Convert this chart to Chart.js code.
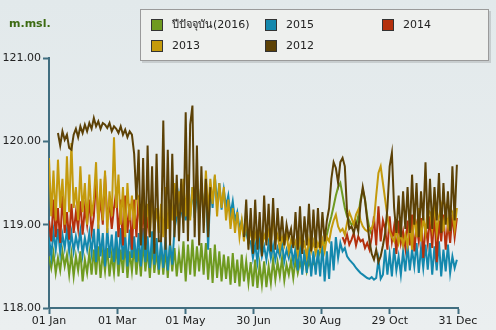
<!DOCTYPE html>
<html>
<head>
<meta charset="utf-8">
<script src="https://cdn.jsdelivr.net/npm/chart.js@4.4.0/dist/chart.umd.min.js"></script>
<style>
  html, body { margin: 0; padding: 0; }
  body {
    width: 496px; height: 330px; position: relative; overflow: hidden;
    background: linear-gradient(#e2e9eb, #ebeff0);
    font-family: "DejaVu Sans", "Noto Sans", sans-serif;
  }
  #chart { position: absolute; left: 0; top: 0; }
  #unit { position: absolute; left: 9px; top: 17px; font-size: 11px; font-weight: bold; color: #3d6b12; }
  #legend {
    position: absolute; left: 140px; top: 9px; width: 347px; height: 50px;
    background: #eef0ee; border: 1px solid #9a9a9a; box-shadow: 2px 2px 0 rgba(0,0,0,0.12);
  }
  .sw { position: absolute; width: 10px; height: 10px; border: 1px solid #333; }
  .lb { position: absolute; font-size: 11px; line-height: 13px; color: #222; white-space: nowrap; }
</style>
</head>
<body>
<canvas id="chart" width="496" height="330"></canvas>
<div id="unit">m.msl.</div>
<div id="legend"></div>
<script>
// water level (m.msl.), one reading every 2 days from 1 Jan
const seriesNames = ['ปีปัจจุบัน(2016)', '2015', '2014', '2013', '2012'];
const seriesColors = ['#6f9a20', '#1488ad', '#b4300c', '#c49a0c', '#5c4106'];
const xTickLabels = ['01 Jan', '01 Mar', '01 May', '30 Jun', '30 Aug', '29 Oct', '31 Dec'];
const yTickValues = [118, 119, 120, 121];

const level2016 = [
  118.62, 118.48, 118.66, 118.42, 118.60, 118.45, 118.68, 118.50, 118.64, 118.40,
  118.65, 118.38, 118.62, 118.45, 118.68, 118.32, 118.58, 118.42, 118.66, 118.40,
  118.70, 118.40, 118.74, 118.36, 118.66, 118.44, 118.72, 118.38, 118.64, 118.42,
  118.76, 118.38, 118.70, 118.42, 118.78, 118.36, 118.68, 118.44, 118.74, 118.40,
  118.72, 118.38, 118.80, 118.44, 118.70, 118.36, 118.76, 118.42, 118.68, 118.40,
  118.74, 118.40, 118.70, 118.36, 118.78, 118.44, 118.72, 118.38, 118.66, 118.42,
  118.80, 118.32, 118.76, 118.40, 118.82, 118.38, 118.74, 118.44, 118.78, 118.40,
  118.78, 118.34, 118.72, 118.30, 118.76, 118.36, 118.68, 118.32, 118.64, 118.35,
  118.62, 118.28, 118.66, 118.30, 118.58, 118.26, 118.64, 118.32, 118.56, 118.30,
  118.55, 118.26, 118.58, 118.24, 118.52, 118.28, 118.56, 118.25, 118.50, 118.30,
  118.58, 118.34, 118.55, 118.38, 118.60, 118.33, 118.52, 118.40, 118.57, 118.36,
  118.58, 118.42, 118.55, 118.45, 118.60, 118.44, 118.56, 118.48, 118.55, 118.50,
  118.60, 118.68, 118.72, 118.80, 118.88, 119.00, 119.10, 119.22, 119.35, 119.45,
  119.50, 119.35, 119.20, 119.10, 119.05, 119.00, 119.02, 118.98, 119.10, 119.30,
  119.42, 119.30, 119.10, 118.95, 118.88, null, null, null, null, null,
  null, null, null, null, null, null, null, null, null, null,
  null, null, null, null, null, null, null, null, null, null,
  null, null, null, null, null, null, null, null, null, null,
  null, null, null
];

const level2015 = [
  118.85, 118.62, 118.92, 118.70, 118.95, 118.66, 118.88, 118.72, 118.94, 118.68,
  118.90, 118.68, 118.86, 118.72, 118.92, 118.64, 118.84, 118.70, 118.90, 118.66,
  118.95, 118.55, 119.00, 118.62, 118.90, 118.50, 118.96, 118.60, 118.88, 118.55,
  118.92, 118.52, 118.96, 118.58, 118.88, 118.50, 118.94, 118.60, 118.86, 118.55,
  118.90, 118.50, 118.96, 118.55, 118.86, 118.48, 118.92, 118.52, 118.84, 118.46,
  118.80, 118.48, 118.85, 118.45, 118.78, 118.52, 118.95, 119.10, 119.35, 119.15,
  119.30, 119.05, 119.38, 119.10, 119.45, 119.08, 119.40, 119.15, 119.50, 119.12,
  119.55, 118.70, 119.45, 119.20, 119.58, 119.25, 119.50, 119.18, 119.42, 119.22,
  119.35, 119.12, 119.28, 119.05, 119.15, 118.95, 119.05, 118.85, 118.92, 118.78,
  118.80, 118.60, 118.76, 118.55, 118.82, 118.62, 118.74, 118.58, 118.78, 118.60,
  118.75, 118.58, 118.72, 118.62, 118.78, 118.56, 118.70, 118.60, 118.74, 118.55,
  118.72, 118.45, 118.78, 118.40, 118.70, 118.42, 118.76, 118.38, 118.68, 118.40,
  118.70, 118.38, 118.75, 118.32, 118.68, 118.35, 118.80, 118.45, 118.85, 118.60,
  118.78, 118.68, 118.72, 118.62, 118.58, 118.55, 118.52, 118.48, 118.45, 118.42,
  118.40, 118.38, 118.36, 118.35, 118.37, 118.34, 118.36, 118.58, 118.35, 118.40,
  118.70, 118.40, 118.65, 118.38, 118.72, 118.45, 118.62, 118.40, 118.68, 118.44,
  118.75, 118.45, 118.70, 118.50, 118.78, 118.42, 118.72, 118.48, 118.76, 118.46,
  118.78, 118.40, 118.74, 118.45, 118.80, 118.38, 118.70, 118.44, 118.76, 118.42,
  118.62, 118.48, 118.58
];

const level2014 = [
  119.05, 118.80, 119.30, 118.85, 119.20, 118.78, 119.35, 118.90, 119.15, 118.82,
  119.25, 118.90, 119.15, 118.95, 119.28, 118.88, 119.20, 119.00, 119.30, 118.92,
  119.10, 119.55, 119.05, 119.30, 119.00, 119.60, 119.08, 119.25, 118.95, 119.20,
  119.40, 118.85, 119.30, 118.75, 119.35, 118.90, 119.25, 118.70, 119.30, 118.85,
  119.35, 118.80, 119.20, 118.75, 119.10, 118.85, null, null, null, null,
  null, null, null, null, null, null, null, null, null, null,
  null, null, null, null, null, null, null, null, null, null,
  null, null, null, null, null, null, null, null, null, null,
  null, null, null, null, null, null, null, null, null, null,
  null, null, null, null, null, null, null, null, null, null,
  null, null, null, null, null, null, null, null, null, null,
  null, null, null, null, null, null, null, null, null, null,
  null, null, null, null, null, null, null, null, null, null,
  null, 118.85, 118.78, 118.88, 118.76, 118.82, 118.90, 118.75, 118.86, 118.80,
  118.82, 118.72, 118.78, 118.70, 118.85, 119.10, 118.75, 119.22, 118.80, 119.05,
  118.95, 118.70, 119.10, 118.80, 118.98, 118.65, 119.05, 118.78, 118.92, 118.72,
  119.05, 118.75, 119.12, 118.68, 118.98, 118.80, 119.08, 118.60, 119.00, 118.78,
  119.10, 118.72, 119.15, 118.55, 119.05, 118.80, 119.12, 118.70, 119.02, 118.78,
  119.12, 118.85, 119.08
];

const level2013 = [
  119.80, 119.10, 119.65, 119.05, 119.78, 119.20, 119.55, 119.00, 119.82, 119.15,
  119.98, 119.20, 119.45, 119.05, 119.70, 119.15, 119.50, 119.00, 119.60, 119.10,
  119.30, 119.75, 118.95, 119.55, 119.05, 119.65, 118.90, 119.40, 119.10, 120.05,
  119.20, 119.60, 119.00, 119.45, 118.85, 119.50, 119.05, 119.35, 118.95, 119.40,
  119.30, 118.90, 119.40, 119.00, 119.25, 118.85, 119.35, 118.95, 119.20, 118.90,
  119.25, 118.85, 119.45, 118.95, 119.30, 119.05, 119.50, 119.10, 119.40, 119.15,
  119.55, 119.10, 119.60, 119.05, 119.45, 119.20, 119.62, 119.15, 119.50, 119.08,
  119.65, 119.15, 119.55, 119.25, 119.60, 119.10, 119.50, 119.20, 119.45, 119.05,
  119.30, 118.95, 119.20, 118.90, 119.15, 118.85, 119.05, 118.80, 119.10, 118.78,
  118.95, 118.75, 118.90, 118.78, 118.98, 118.72, 118.88, 118.80, 118.92, 118.76,
  119.15, 118.80, 118.88, 118.70, 118.85, 118.75, 118.90, 118.68, 118.82, 118.74,
  118.80, 118.65, 118.84, 118.70, 118.78, 118.62, 118.82, 118.68, 118.80, 118.66,
  118.78, 118.70, 118.82, 118.68, 118.85, 118.80, 118.95, 119.05, 119.12, 118.98,
  118.92, 118.95, 118.88, 119.02, 119.15, 119.08, 119.00, 119.12, 119.18, 119.05,
  118.98, 118.94, 118.92, 118.96, 118.95, 119.05, 119.35, 119.62, 119.70, 119.50,
  119.30, 119.10, 118.92, 118.85, 118.80, 118.95, 118.78, 118.90, 118.75, 118.88,
  118.75, 119.05, 118.70, 119.15, 118.85, 119.20, 118.80, 119.10, 118.90, 119.18,
  119.15, 118.95, 119.25, 118.90, 119.10, 119.22, 118.92, 119.18, 118.98, 119.20,
  119.15, 118.95, 119.20
];

const level2012 = [
  null, null, null, null, 120.10, 119.95, 120.12, 120.02, 120.08, 119.92,
  119.90, 120.08, 120.15, 120.05, 120.18, 120.10, 120.20, 120.12, 120.22, 120.15,
  120.28, 120.18, 120.24, 120.15, 120.22, 120.20, 120.16, 120.22, 120.12, 120.18,
  120.15, 120.10, 120.18, 120.08, 120.14, 120.05, 120.12, 120.08, 119.85, 119.30,
  119.90, 118.75, 119.80, 118.70, 119.95, 118.85, 119.70, 118.65, 119.85, 118.80,
  118.80, 120.25, 118.70, 119.90, 118.75, 119.85, 118.85, 119.60, 118.80, 119.55,
  118.90, 120.35, 118.80, 120.20, 120.43, 118.85, 119.95, 118.75, 119.70, 118.90,
  119.55, 118.85, 119.45, null, null, null, null, null, null, null,
  null, null, null, null, null, null, null, 118.85, 119.30, 118.70,
  119.20, 118.65, 119.30, 118.70, 119.15, 118.62, 119.35, 118.75, 119.25, 118.68,
  119.32, 118.70, 119.20, 118.80, 119.10, 118.75, 119.00, 118.85, 118.95, 118.72,
  119.15, 118.70, 119.22, 118.65, 119.10, 118.75, 119.25, 118.68, 119.18, 118.72,
  119.20, 118.72, 119.15, 118.80, 119.05, 119.20, 119.55, 119.75, 119.68, 119.50,
  119.75, 119.80, 119.70, 119.15, 118.95, 118.98, 118.90, 119.02, 118.92, 119.25,
  119.45, 119.30, 119.05, 118.80, 118.65, 118.58, 118.70, 118.55, 118.62, 118.75,
  118.90, 119.20, 119.70, 119.86, 119.20, 118.90, 119.35, 118.85, 119.40, 118.95,
  119.45, 118.90, 119.60, 119.00, 119.50, 118.85, 119.40, 119.05, 119.75, 118.95,
  119.55, 118.95, 119.45, 119.05, 119.62, 118.90, 119.50, 119.00, 119.40, 118.92,
  119.70, 119.05, 119.72
];

const seriesValues = [level2016, level2015, level2014, level2013, level2012];
const dayStep = 2;

const axisColor = '#416e80';
const fontFamily = '"DejaVu Sans", "Noto Sans", sans-serif';

// legend boxes, laid out in three columns
const legendCols = [151, 265, 382];
const legendRows = [19, 40];
seriesNames.forEach((name, i) => {
  const x = legendCols[i % 3], y = legendRows[Math.floor(i / 3)];
  const sw = document.createElement('div');
  sw.className = 'sw';
  sw.style.left = x + 'px';
  sw.style.top = y + 'px';
  sw.style.background = seriesColors[i];
  document.body.appendChild(sw);
  const lb = document.createElement('div');
  lb.className = 'lb';
  lb.style.left = (x + 21) + 'px';
  lb.style.top = (y - 1) + 'px';
  lb.textContent = name;
  document.body.appendChild(lb);
});

const datasets = seriesValues.map((vals, i) => ({
  label: seriesNames[i],
  data: vals.map((v, j) => ({ x: j * dayStep, y: v })),
  borderColor: seriesColors[i],
  backgroundColor: seriesColors[i],
  borderWidth: 2,
  pointRadius: 0,
  fill: false,
  tension: 0,
  order: seriesValues.length - 1 - i
}));

new Chart(document.getElementById('chart'), {
  type: 'line',
  data: { datasets },
  options: {
    responsive: false,
    animation: false,
    layout: { padding: { top: 58, right: 38, left: 0, bottom: 0 } },
    plugins: { legend: { display: false }, tooltip: { enabled: false } },
    scales: {
      x: {
        type: 'linear',
        min: 0,
        max: 365,
        afterBuildTicks: s => { s.ticks = xTickLabels.map((_, i) => ({ value: i * 365 / 6 })); },
        afterFit: s => { s.height = 22; },
        ticks: {
          callback: (v, i) => xTickLabels[i],
          autoSkip: false,
          maxRotation: 0,
          padding: 1,
          color: '#222',
          font: { family: fontFamily, size: 11 }
        },
        grid: { drawOnChartArea: false, drawTicks: true, tickLength: 6, tickColor: axisColor, tickWidth: 2 },
        border: { display: true, color: axisColor, width: 2 }
      },
      y: {
        min: 118,
        max: 121,
        afterBuildTicks: s => { s.ticks = yTickValues.map(v => ({ value: v })); },
        afterFit: s => { s.width = 49; },
        ticks: {
          callback: v => v.toFixed(2),
          padding: 2,
          color: '#222',
          font: { family: fontFamily, size: 11 }
        },
        grid: { drawOnChartArea: false, drawTicks: true, tickLength: 6, tickColor: axisColor, tickWidth: 2 },
        border: { display: true, color: axisColor, width: 2 }
      }
    }
  }
});
</script>
</body>
</html>
